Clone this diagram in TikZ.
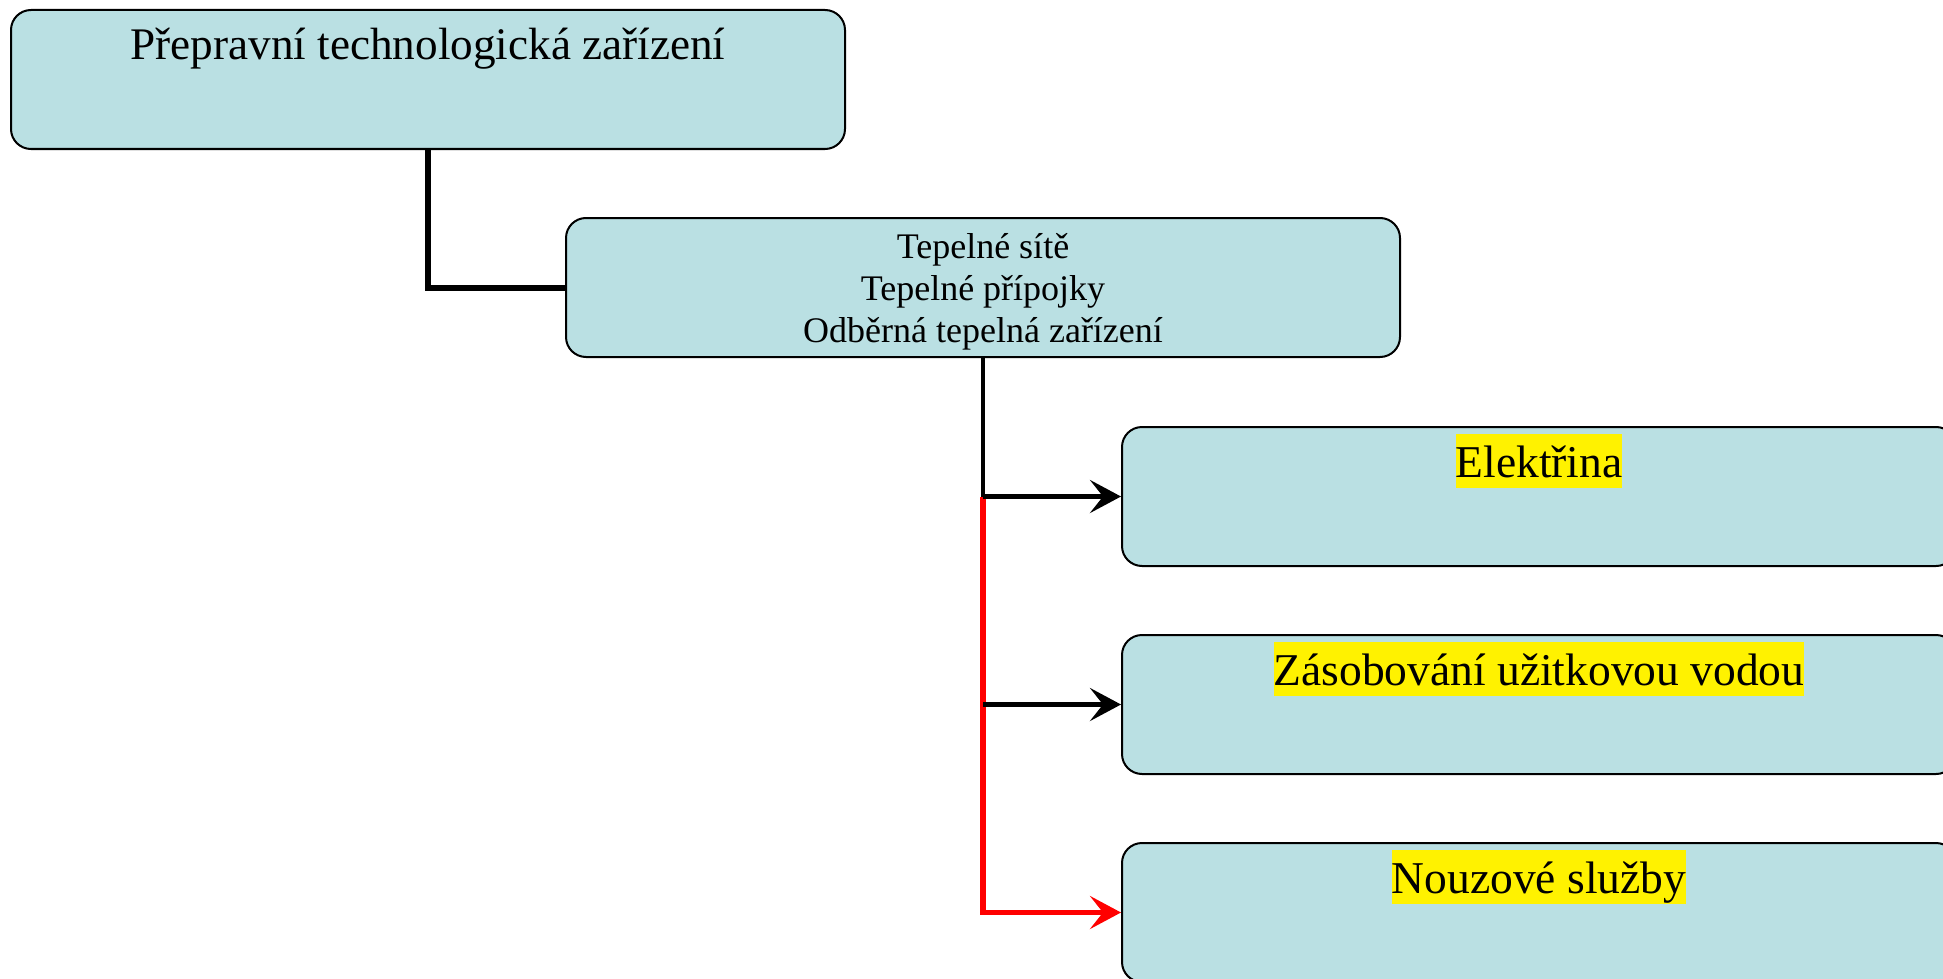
\documentclass[tikz,border=0pt]{standalone}
\usepackage{fontspec}
\setmainfont{Liberation Serif}
\usetikzlibrary{arrows.meta}

\definecolor{boxfill}{RGB}{186,224,227}

\tikzset{
  panel/.style={draw=black, line width=1pt, fill=boxfill, rounded corners=10pt,
    rectangle, minimum width=417pt, minimum height=69.5pt, inner sep=0pt},
  bigtext/.style={anchor=base, inner sep=0pt, font=\fontsize{22.6pt}{27pt}\selectfont},
  smalltext/.style={anchor=base, inner sep=0pt, font=\fontsize{18pt}{21pt}\selectfont},
  marked/.style={anchor=base, fill=yellow, inner xsep=0pt, inner ysep=0pt,
    text height=21.5pt, text depth=5.5pt, font=\fontsize{22.75pt}{27pt}\selectfont},
  tip/.style={-{Stealth[length=15.5pt, width=16.5pt, inset=6.5pt]}},
  thickline/.style={line width=3pt, black},
  blackline/.style={line width=2.4pt, black},
  redline/.style={line width=2.75pt, red}
}

\begin{document}
\begin{tikzpicture}[x=0.5pt, y=-0.5pt]
  \useasboundingbox (0,0) rectangle (1943,979);
  \clip (0,0) rectangle (1943,979);

  % boxes
  \node[panel] (b1) at (428,79.5) {};
  \node[panel] (b2) at (983,287.5) {};
  \node[panel] (b3) at (1539,496.5) {};
  \node[panel] (b4) at (1539,704.5) {};
  \node[panel] (b5) at (1539,912.5) {};

  % texts
  \node[bigtext] (t1) at (428,60) {Přepravní technologická zařízení};
  \node[smalltext] (t2a) at (983,258) {Tepelné sítě};
  \node[smalltext] (t2b) at (983,300) {Tepelné přípojky};
  \node[smalltext] (t2c) at (983,342) {Odběrná tepelná zařízení};
  \node[marked] (t3) at (1539,477) {Elektřina};
  \node[marked] (t4) at (1539,685) {Zásobování užitkovou vodou};
  \node[marked] (t5) at (1539,893) {Nouzové služby};

  % connectors
  \coordinate (j1) at (b2.south |- b3.west);
  \coordinate (j2) at (b2.south |- b4.west);
  \draw[thickline] (b1.south) |- (b2.west);
  \draw[blackline] (b2.south) -- (j1);
  \draw[redline, tip] (j1) |- (b5.west);
  \draw[blackline, tip] (j1) -- (b3.west);
  \draw[blackline, tip] (j2) -- (b4.west);
\end{tikzpicture}
\end{document}
